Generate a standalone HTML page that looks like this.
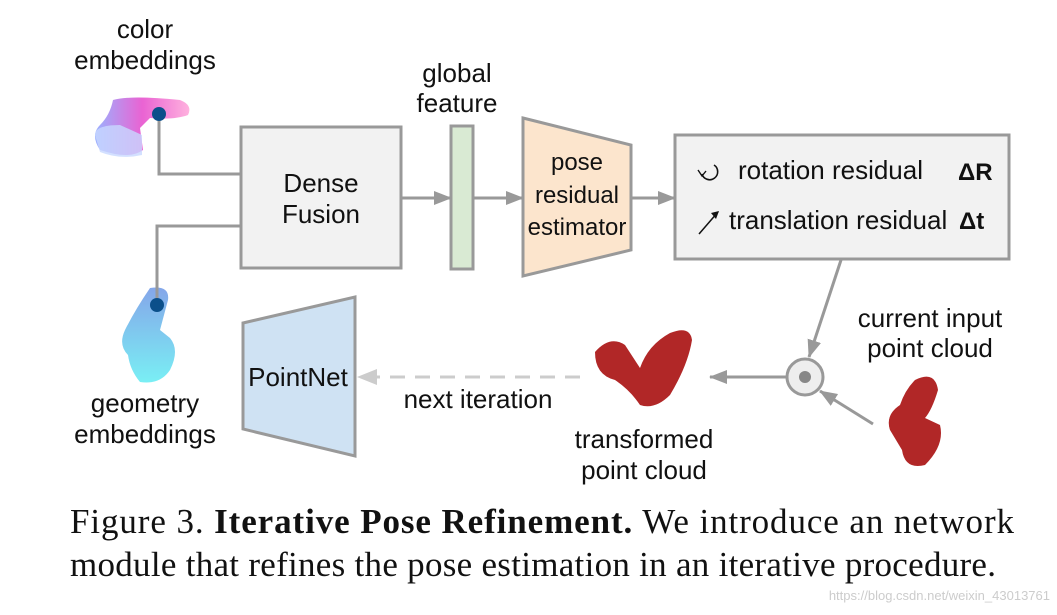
<!DOCTYPE html>
<html><head><meta charset="utf-8"><style>
body{margin:0;background:#fff;width:1057px;height:610px;overflow:hidden}
svg text{font-family:"Liberation Sans",Arial,sans-serif;fill:#111}
</style></head><body>
<svg width="1057" height="610" viewBox="0 0 1057 610" xmlns="http://www.w3.org/2000/svg">
<defs>
<marker id="ah" markerWidth="18" markerHeight="14" refX="17" refY="7" orient="auto" markerUnits="userSpaceOnUse"><path d="M0,0 L18,7 L0,14 z" fill="#999"/></marker>
<linearGradient id="cg" x1="0" y1="0" x2="1" y2="0"><stop offset="0" stop-color="#7090ff"/><stop offset="0.5" stop-color="#e020c0"/><stop offset="1" stop-color="#ff90d0"/></linearGradient>
<linearGradient id="gg" x1="0" y1="0" x2="0" y2="1"><stop offset="0" stop-color="#5080e0"/><stop offset="1" stop-color="#40e8f0"/></linearGradient>
</defs>
<text x="145" y="38" font-size="26" text-anchor="middle">color</text>
<text x="145" y="69" font-size="26" text-anchor="middle">embeddings</text>
<path d="M113,100 Q130,95 180,100 Q193,105 188,115 Q175,120 150,118 L140,128 L143,150 Q130,160 100,150 Q90,135 100,125 Q110,115 113,100z" fill="url(#cg)" opacity="0.7"/>
<path d="M95,135 Q95,125 120,125 L142,135 L142,155 Q120,160 100,152z" fill="#c8d8ff" opacity="0.8"/>
<polyline points="159,115 159,174 240,174" fill="none" stroke="#999" stroke-width="3"/>
<circle cx="159" cy="114" r="7" fill="#0b4f8a"/>
<text x="457" y="82" font-size="26" text-anchor="middle">global</text>
<text x="457" y="112" font-size="26" text-anchor="middle">feature</text>
<rect x="241" y="127" width="160" height="141" fill="#f2f2f2" stroke="#999" stroke-width="3"/>
<text x="321" y="192" font-size="26" text-anchor="middle">Dense</text>
<text x="321" y="223" font-size="26" text-anchor="middle">Fusion</text>
<rect x="451" y="126" width="22" height="143" fill="#d9ead3" stroke="#999" stroke-width="3"/>
<line x1="401" y1="198" x2="451" y2="198" stroke="#999" stroke-width="3" marker-end="url(#ah)"/>
<line x1="473" y1="198" x2="523" y2="198" stroke="#999" stroke-width="3" marker-end="url(#ah)"/>
<polygon points="523,118 631,145 631,250 523,276" fill="#fce5cd" stroke="#999" stroke-width="3"/>
<text x="577" y="170" font-size="24" text-anchor="middle">pose</text>
<text x="577" y="203" font-size="24" text-anchor="middle">residual</text>
<text x="577" y="235" font-size="24" text-anchor="middle">estimator</text>
<line x1="631" y1="198" x2="675" y2="198" stroke="#999" stroke-width="3" marker-end="url(#ah)"/>
<rect x="675" y="135" width="334" height="124" fill="#f2f2f2" stroke="#999" stroke-width="3"/>
<path d="M714,165 A8,8 0 1 1 702,174" fill="none" stroke="#111" stroke-width="1.6"/>
<path d="M698,170 L702,176 L706,171" fill="none" stroke="#111" stroke-width="1.4"/>
<text x="738" y="179" font-size="26">rotation residual</text>
<text x="958" y="180" font-size="24" font-weight="bold">ΔR</text>
<line x1="699" y1="234" x2="718" y2="212" stroke="#111" stroke-width="1.5"/>
<path d="M711,213 L719,211 L716,219z" fill="#111"/>
<text x="729" y="229" font-size="26">translation residual</text>
<text x="959" y="229" font-size="24" font-weight="bold">Δt</text>
<line x1="841" y1="260" x2="809" y2="357" stroke="#999" stroke-width="3" marker-end="url(#ah)"/>
<circle cx="805" cy="377" r="18" fill="#eee" stroke="#999" stroke-width="3"/>
<circle cx="805" cy="377" r="6" fill="#888"/>
<line x1="873" y1="424" x2="820" y2="391" stroke="#999" stroke-width="3" marker-end="url(#ah)"/>
<line x1="787" y1="377" x2="710" y2="377" stroke="#999" stroke-width="3" marker-end="url(#ah)"/>
<text x="930" y="327" font-size="26" text-anchor="middle">current input</text>
<text x="930" y="357" font-size="26" text-anchor="middle">point cloud</text>
<path d="M595,352 Q610,335 625,345 L640,368 Q648,345 670,333 Q690,325 692,340 Q688,365 670,395 Q655,410 640,405 Q630,390 615,380 Q595,375 595,352z" fill="#a81010" opacity="0.9"/>
<path d="M915,380 Q935,370 938,390 Q932,410 925,418 L940,425 Q945,445 925,465 Q905,470 902,450 L890,430 Q885,415 900,405 Q905,390 915,380z" fill="#a81010" opacity="0.9"/>
<text x="644" y="448" font-size="26" text-anchor="middle">transformed</text>
<text x="644" y="479" font-size="26" text-anchor="middle">point cloud</text>
<line x1="580" y1="377" x2="375" y2="377" stroke="#ccc" stroke-width="3" stroke-dasharray="15,10"/>
<path d="M357,377 L377,369 L377,385z" fill="#ccc"/>
<text x="478" y="408" font-size="26" text-anchor="middle">next iteration</text>
<polygon points="243,323 355,297 355,456 243,429" fill="#cfe2f3" stroke="#999" stroke-width="3"/>
<text x="298" y="386" font-size="26" text-anchor="middle">PointNet</text>
<path d="M150,288 Q170,285 168,300 L160,330 L170,338 Q180,350 170,370 Q160,385 140,382 Q130,370 128,355 Q118,345 125,330 Q135,310 150,288z" fill="url(#gg)" opacity="0.7"/>
<polyline points="157,305 157,226 240,226" fill="none" stroke="#999" stroke-width="3"/>
<circle cx="157" cy="305" r="7" fill="#0b4f8a"/>
<text x="145" y="412" font-size="26" text-anchor="middle">geometry</text>
<text x="145" y="443" font-size="26" text-anchor="middle">embeddings</text>
<text x="70" y="533" font-size="35" style="font-family:'Liberation Serif',serif" textLength="944" lengthAdjust="spacing">Figure 3. <tspan font-weight="bold">Iterative Pose Refinement.</tspan> We introduce an network</text>
<text x="70" y="576" font-size="35" style="font-family:'Liberation Serif',serif" textLength="926" lengthAdjust="spacing">module that refines the pose estimation in an iterative procedure.</text>
<text x="1050" y="600" font-size="13" text-anchor="end" style="fill:#ccc">https://blog.csdn.net/weixin_43013761</text>
</svg>
</body></html>
